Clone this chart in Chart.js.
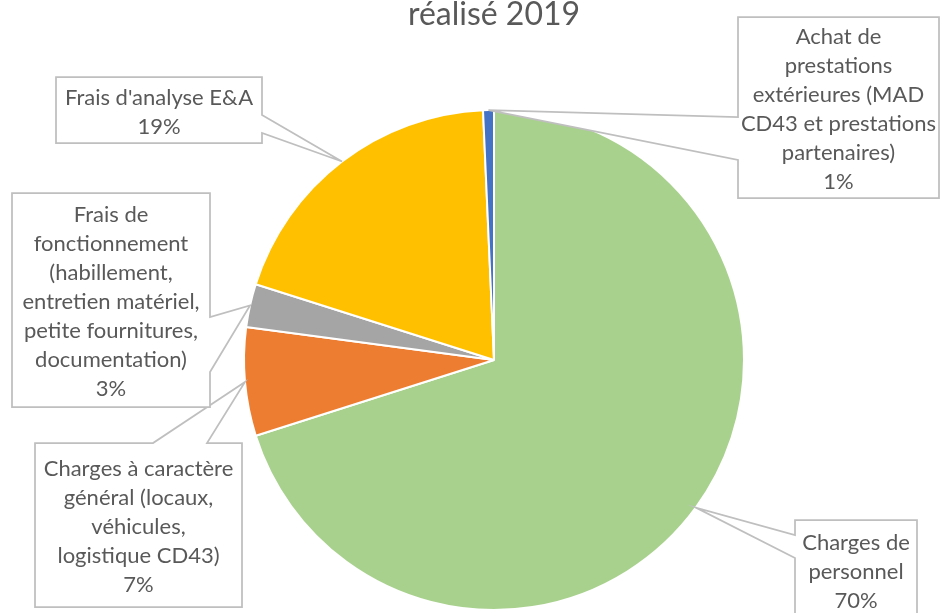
<!DOCTYPE html>
<html><head><meta charset="utf-8">
<script src="https://cdn.jsdelivr.net/npm/chart.js@4.4.0/dist/chart.umd.min.js"></script>
<style>html,body{margin:0;padding:0;background:#fff;overflow:hidden}#wrap{width:941px;height:613px;position:relative}</style>
</head><body><div id="wrap"><canvas id="c"></canvas></div>
<script>
const chartTitle = 'réalisé 2019';
const categories = [
  ['Charges de', 'personnel'],
  ['Charges à caractère', 'général (locaux,', 'véhicules,', 'logistique CD43)'],
  ['Frais de', 'fonctionnement', '(habillement,', 'entretien matériel,', 'petite fournitures,', 'documentation)'],
  ["Frais d'analyse E&A"],
  ['Achat de', 'prestations', 'extérieures (MAD', 'CD43 et prestations', 'partenaires)']
];
const values = [70.1, 7.0, 2.8, 19.4, 0.7];
const sliceColors = ['#A9D18E', '#ED7D31', '#A5A5A5', '#FFC000', '#4472C4'];

// callout boxes (layout only): [x, y, w, h], side with pointer, pointer base positions on that side
const calloutLayout = [
  {box: [795, 520, 122, 100], side: 'left',  base: [535, 558]},
  {box: [35, 443, 207, 164],  side: 'top',   base: [153, 207]},
  {box: [12, 193, 198, 214],  side: 'right', base: [317, 372]},
  {box: [56, 77, 206, 66],    side: 'right', base: [115, 133]},
  {box: [738, 17, 201, 181],  side: 'left',  base: [117, 160]}
];

const FONT = 'Lato, "Open Sans", sans-serif';
const TEXT_COLOR = '#595959';

const calloutPlugin = {
  id: 'callouts',
  afterDatasetsDraw(chart) {
    const ctx = chart.ctx;
    const meta = chart.getDatasetMeta(0);
    const total = values.reduce((a, b) => a + b, 0);
    meta.data.forEach((arc, i) => {
      const p = arc.getProps(['x', 'y', 'startAngle', 'endAngle', 'outerRadius'], true);
      const mid = (p.startAngle + p.endAngle) / 2;
      const tx = p.x + Math.cos(mid) * p.outerRadius;
      const ty = p.y + Math.sin(mid) * p.outerRadius;
      const L = calloutLayout[i];
      const [x, y, w, h] = L.box;
      ctx.save();
      ctx.beginPath();
      if (L.side === 'left') {
        ctx.moveTo(x, y); ctx.lineTo(x + w, y); ctx.lineTo(x + w, y + h); ctx.lineTo(x, y + h);
        ctx.lineTo(x, L.base[1]); ctx.lineTo(tx, ty); ctx.lineTo(x, L.base[0]);
      } else if (L.side === 'right') {
        ctx.moveTo(x, y); ctx.lineTo(x + w, y); ctx.lineTo(x + w, L.base[0]); ctx.lineTo(tx, ty);
        ctx.lineTo(x + w, L.base[1]); ctx.lineTo(x + w, y + h); ctx.lineTo(x, y + h);
      } else {
        ctx.moveTo(x, y); ctx.lineTo(L.base[0], y); ctx.lineTo(tx, ty); ctx.lineTo(L.base[1], y);
        ctx.lineTo(x + w, y); ctx.lineTo(x + w, y + h); ctx.lineTo(x, y + h);
      }
      ctx.closePath();
      ctx.fillStyle = '#ffffff';
      ctx.fill();
      ctx.lineWidth = 1.75;
      ctx.strokeStyle = '#BFBFBF';
      ctx.lineJoin = 'miter';
      ctx.stroke();

      const lines = categories[i].concat([Math.round(values[i] / total * 100) + '%']);
      const lh = 29;
      ctx.fillStyle = TEXT_COLOR;
      ctx.font = '22px ' + FONT;
      ctx.textAlign = 'center';
      ctx.textBaseline = 'middle';
      const cy = y + h / 2 + 2;
      const start = cy - (lines.length - 1) * lh / 2;
      lines.forEach((t, k) => ctx.fillText(t, x + w / 2, start + k * lh));
      ctx.restore();
    });
  },
  afterDraw(chart) {
    const ctx = chart.ctx;
    ctx.save();
    ctx.fillStyle = TEXT_COLOR;
    ctx.font = '32px ' + FONT;
    ctx.textAlign = 'center';
    ctx.textBaseline = 'alphabetic';
    ctx.fillText(chartTitle, 494, 25);
    ctx.restore();
  }
};

new Chart(document.getElementById('c'), {
  type: 'pie',
  data: {
    labels: categories,
    datasets: [{
      data: values,
      backgroundColor: sliceColors,
      borderColor: '#ffffff',
      borderWidth: 2,
      radius: 250
    }]
  },
  options: {
    responsive: true,
    maintainAspectRatio: false,
    animation: false,
    rotation: 0,
    layout: {padding: {top: 110, bottom: 3, left: 47, right: 0}},
    plugins: {legend: {display: false}, tooltip: {enabled: false}, title: {display: false}}
  },
  plugins: [calloutPlugin]
});
</script>
</body></html>
